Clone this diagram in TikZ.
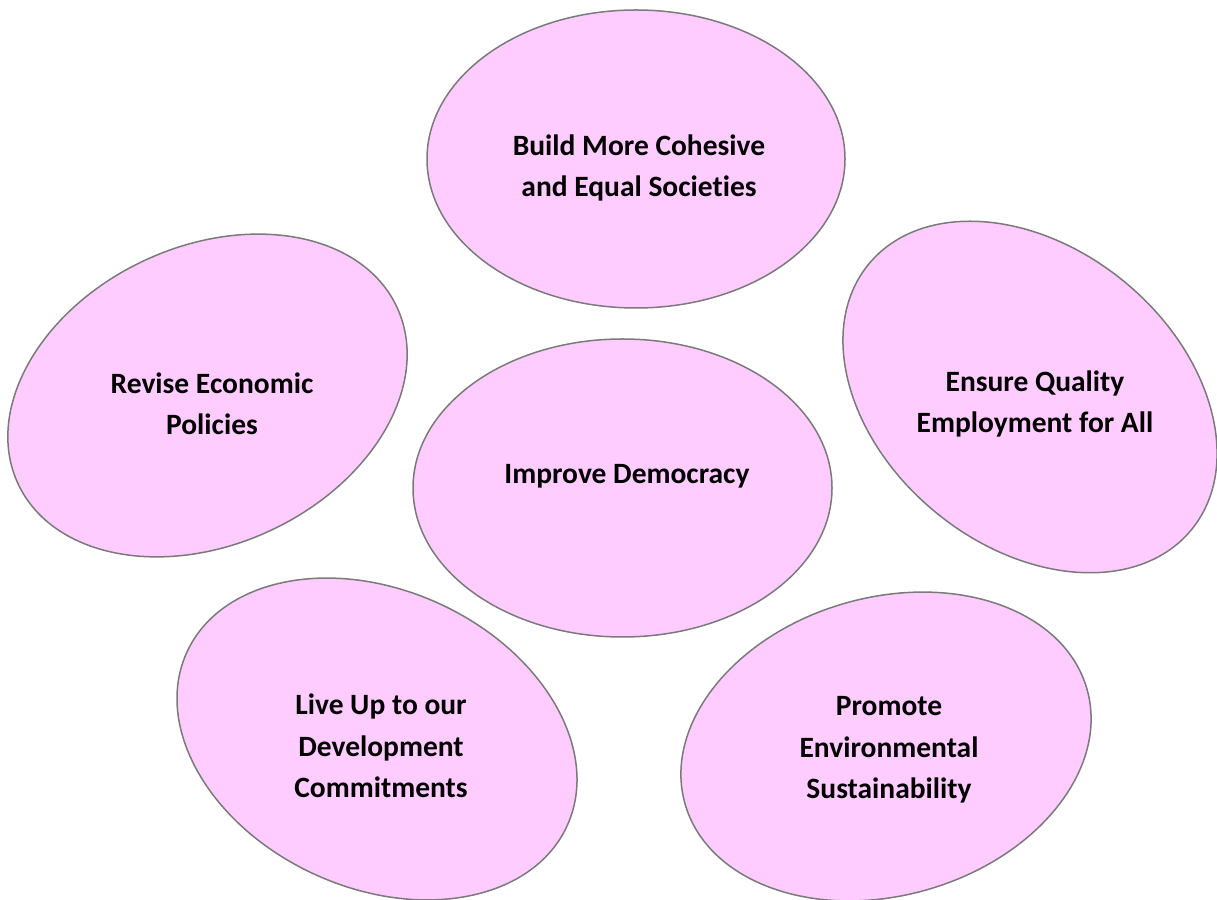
\documentclass[tikz,border=0pt]{standalone}
\usepackage{fontspec}
\setmainfont{Carlito}[Ligatures=NoCommon]
\definecolor{bubblefill}{HTML}{FFCCFF}
\definecolor{bubbleline}{HTML}{7A7A7A}
\begin{document}
\begin{tikzpicture}[x=1pt,y=1pt,
  bubble/.style={fill=bubblefill,draw=bubbleline,line width=1.5pt},
  label/.style={align=center,inner sep=0pt,font=\fontsize{29.5}{41.5}\selectfont\bfseries,text=black}]
\useasboundingbox (0,0) rectangle (1217,899);
% top
\draw[bubble] (636,740) ellipse [x radius=209,y radius=149];
\node[label] (top) at (639,731) {Build More Cohesive\\and Equal Societies};
% left
\draw[bubble, rotate around={25:(207.5,503.5)}] (207.5,503.5) ellipse [x radius=209,y radius=149];
\node[label] (left) at (212,495) {Revise Economic\\Policies};
% right
\draw[bubble, rotate around={-39.5:(1030,502)}] (1030,502) ellipse [x radius=209,y radius=149];
\node[label] (right) at (1035,495) {Ensure Quality\\Employment for All};
% center
\draw[bubble] (622.5,411) ellipse [x radius=209.5,y radius=149];
\node[label] (center) at (627,423) {Improve Democracy};
% bottom left
\draw[bubble, rotate around={-24.5:(377,160)}] (377,160) ellipse [x radius=209,y radius=149];
\node[label] (bl) at (381,153) {Live Up to our\\Development\\Commitments};
% bottom right
\draw[bubble, rotate around={16:(886,152.5)}] (886,152.5) ellipse [x radius=209,y radius=149];
\node[label] (br) at (889,149) {Promote\\Environmental\\Sustainability};
\end{tikzpicture}
\end{document}
